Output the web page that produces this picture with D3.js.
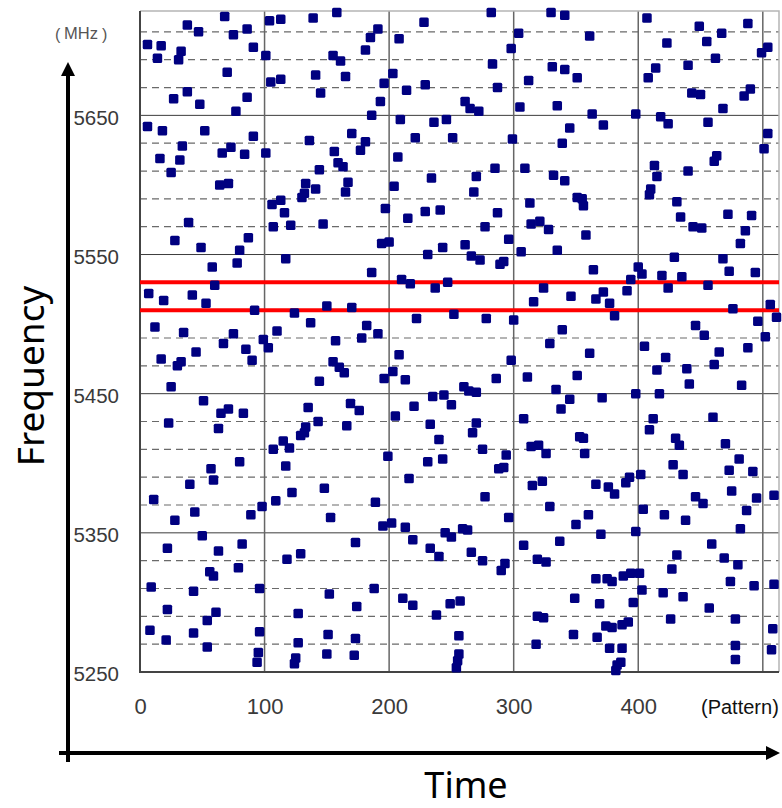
<!DOCTYPE html>
<html>
<head>
<meta charset="utf-8">
<script src="https://d3js.org/d3.v7.min.js"></script>
<style>
  body { margin: 0; background: #fff; }
  svg { display: block; }
</style>
</head>
<body>
<div id="chartArea"></div>
<script>
// pattern number, frequency (MHz)
var hops = [
  [68,5721],[38,5715],[47,5710],[75,5708],[86,5712],[6,5701],[17,5700],[33,5696],[14,5691],[31,5690],
  [91,5699],[101,5693],[104,5718],[113,5719],[139,5720],[158,5724],[155,5693],[161,5689],[165,5678],[141,5679],
  [145,5666],[105,5674],[113,5676],[70,5681],[38,5667],[27,5662],[48,5658],[86,5663],[77,5653],[6,5642],
  [18,5639],[52,5639],[91,5635],[34,5628],[73,5627],[66,5623],[84,5622],[101,5623],[16,5619],[32,5618],
  [25,5609],[64,5600],[71,5601],[39,5573],[136,5632],[170,5637],[156,5624],[159,5616],[163,5613],[144,5611],
  [167,5602],[165,5595],[133,5601],[141,5597],[130,5591],[132,5594],[106,5586],[113,5589],[116,5580],[107,5570],
  [121,5571],[147,5572],
  [191,5712],[185,5706],[181,5697],[208,5705],[228,5717],[282,5724],[330,5724],[341,5722],[304,5709],[298,5698],
  [283,5687],[331,5685],[341,5683],[203,5680],[196,5673],[214,5668],[229,5672],[287,5670],[312,5675],[193,5660],
  [261,5660],[265,5655],[272,5653],[305,5656],[335,5657],[186,5650],[209,5647],[236,5645],[246,5647],[181,5631],
  [177,5625],[221,5634],[251,5634],[299,5633],[339,5630],[207,5620],[285,5612],[309,5612],[332,5607],[341,5603],
  [234,5605],[270,5606],[204,5599],[268,5595],[313,5587],[197,5583],[215,5576],[229,5581],[241,5582],[287,5580],
  [277,5570],[314,5572],[321,5574],[328,5568],
  [361,5707],[407,5720],[449,5714],[467,5709],[488,5716],[423,5702],[455,5703],[462,5691],[499,5695],[504,5699],
  [351,5677],[414,5684],[408,5677],[440,5686],[443,5666],[450,5665],[485,5664],[490,5669],[468,5655],[363,5651],
  [372,5643],[398,5651],[418,5649],[424,5644],[456,5645],[345,5641],[504,5637],[501,5626],[463,5621],[461,5617],
  [413,5614],[415,5606],[440,5610],[410,5597],[409,5593],[351,5591],[355,5590],[356,5585],[431,5588],[434,5577],
  [472,5579],[491,5578],[444,5570],[451,5569],[486,5567],
  [28,5560],[49,5555],[87,5562],[80,5553],[78,5544],[58,5541],[117,5547],[60,5528],[7,5522],[19,5517],
  [42,5521],[53,5515],[92,5510],[124,5508],[150,5513],[170,5512],[137,5501],[12,5498],[35,5494],[75,5493],
  [110,5495],[67,5486],[99,5489],[103,5483],[157,5488],[45,5480],[85,5482],[90,5474],[17,5475],[30,5470],
  [33,5473],[155,5473],[160,5469],[164,5465],[144,5459],[25,5455],[51,5445],[65,5436],[71,5439],[83,5436],
  [23,5429],[63,5425],[135,5440],[143,5430],[166,5427],[169,5443],[133,5426],[129,5420],[132,5422],[115,5416],
  [120,5411],[107,5410],
  [194,5558],[200,5559],[243,5555],[231,5550],[261,5557],[266,5549],[273,5546],[296,5561],[289,5543],[292,5545],
  [306,5552],[335,5553],[186,5537],[210,5532],[217,5529],[237,5526],[247,5530],[324,5526],[316,5516],[222,5504],
  [252,5507],[278,5504],[300,5503],[182,5499],[178,5490],[191,5493],[339,5496],[329,5486],[208,5478],[298,5474],
  [203,5466],[196,5461],[213,5460],[286,5461],[311,5462],[260,5455],[264,5452],[270,5451],[334,5453],[338,5439],
  [235,5448],[244,5449],[250,5442],[220,5441],[176,5438],[205,5434],[233,5428],[270,5429],[267,5422],[240,5417],
  [308,5432],[275,5410],[314,5412],[320,5413],
  [482,5558],[358,5564],[429,5548],[468,5547],[473,5538],[494,5537],[364,5539],[400,5541],[403,5536],[394,5532],
  [391,5524],[419,5535],[435,5534],[424,5526],[456,5528],[346,5520],[366,5518],[372,5523],[377,5515],[381,5506],
  [476,5511],[506,5514],[511,5505],[496,5502],[502,5491],[446,5499],[453,5492],[405,5484],[465,5480],[488,5483],
  [361,5479],[422,5476],[461,5471],[415,5467],[439,5468],[351,5463],[441,5457],[483,5456],[345,5446],[371,5447],
  [398,5450],[417,5450],[412,5432],[409,5424],[460,5433],[353,5419],[356,5418],[430,5418],[470,5414],[433,5413],
  [117,5398],[80,5401],[57,5396],[59,5388],[40,5385],[11,5374],[28,5359],[44,5365],[89,5363],[98,5369],
  [109,5373],[122,5379],[148,5382],[153,5361],[50,5348],[22,5339],[63,5337],[82,5342],[118,5331],[129,5335],
  [173,5343],[56,5322],[59,5319],[79,5325],[9,5311],[43,5308],[96,5310],[152,5306],[22,5295],[61,5293],
  [54,5287],[127,5292],[174,5297],[8,5280],[21,5273],[43,5278],[54,5268],[96,5279],[127,5271],[151,5277],
  [95,5264],[94,5257],[125,5260],[124,5256],[150,5263],[172,5262],
  [199,5405],[231,5401],[243,5403],[294,5406],[288,5396],[292,5397],[326,5407],[216,5389],[189,5372],[277,5376],
  [323,5387],[315,5384],[329,5369],[296,5361],[195,5355],[202,5357],[213,5354],[245,5350],[250,5347],[259,5353],
  [263,5352],[219,5345],[233,5339],[240,5333],[266,5336],[275,5330],[293,5328],[290,5323],[308,5341],[337,5344],
  [319,5331],[326,5329],[188,5310],[211,5303],[219,5298],[238,5291],[249,5299],[257,5301],[319,5290],[324,5289],
  [256,5276],[318,5270],[173,5274],[256,5263],[255,5258],[254,5253],
  [357,5407],[481,5403],[428,5399],[436,5392],[473,5395],[492,5394],[402,5392],[393,5390],[390,5386],[366,5385],
  [376,5383],[381,5378],[475,5380],[446,5376],[452,5371],[495,5375],[509,5377],[360,5363],[350,5356],[404,5367],
  [421,5363],[438,5359],[487,5366],[482,5353],[370,5349],[398,5351],[459,5342],[431,5334],[469,5332],[480,5327],
  [427,5324],[366,5317],[375,5317],[379,5315],[388,5319],[394,5321],[401,5321],[474,5315],[493,5312],[509,5313],
  [403,5309],[420,5307],[436,5304],[349,5303],[369,5299],[396,5300],[457,5296],[374,5283],[379,5282],[387,5284],
  [392,5286],[426,5288],[478,5288],[508,5281],[348,5277],[367,5275],[377,5267],[387,5267],[478,5269],[507,5266],
  [478,5259],[386,5257],[383,5255],[382,5251]
];

var xTicks = [0, 100, 200, 300, 400];
var xGrid = [100, 200, 300, 400, 500];
var yTicks = [5250, 5350, 5450, 5550, 5650];
var yMinor = d3.range(5270, 5725, 20);
var bandEdges = [5510, 5530];

var W = 782, H = 808;
var plot = { left: 140, right: 779, top: 11, bottom: 672 };

var x = d3.scaleLinear().domain([0, 513]).range([plot.left, plot.right]);
var y = d3.scaleLinear().domain([5250, 5725]).range([plot.bottom, plot.top]);

var svg = d3.select('#chartArea')
  .append('svg')
  .attr('width', W)
  .attr('height', H);

// dashed 20 MHz grid
svg.append('g').selectAll('line')
  .data(yMinor.filter(function(d) { return (d - 5250) % 100 !== 0; }))
  .enter().append('line')
  .attr('x1', plot.left).attr('x2', plot.right)
  .attr('y1', function(d) { return y(d); })
  .attr('y2', function(d) { return y(d); })
  .attr('stroke', '#6a6a6a')
  .attr('stroke-width', 1.2)
  .attr('stroke-dasharray', '7,5');

// solid 100 MHz grid
svg.append('g').selectAll('line')
  .data(yTicks.slice(1))
  .enter().append('line')
  .attr('x1', plot.left).attr('x2', plot.right)
  .attr('y1', function(d) { return y(d); })
  .attr('y2', function(d) { return y(d); })
  .attr('stroke', '#3c3c3c')
  .attr('stroke-width', 1);

// vertical grid
svg.append('g').selectAll('line')
  .data(xGrid)
  .enter().append('line')
  .attr('x1', function(d) { return x(d); })
  .attr('x2', function(d) { return x(d); })
  .attr('y1', plot.top).attr('y2', plot.bottom)
  .attr('stroke', '#666')
  .attr('stroke-width', 1.5);

// plot frame
svg.append('path')
  .attr('d', 'M' + plot.left + ',' + plot.top + 'H' + plot.right + 'V' + plot.bottom)
  .attr('fill', 'none')
  .attr('stroke', '#b5b5b5')
  .attr('stroke-width', 1.5);
svg.append('path')
  .attr('d', 'M' + plot.left + ',' + plot.top + 'V' + plot.bottom + 'H' + plot.right)
  .attr('fill', 'none')
  .attr('stroke', '#444')
  .attr('stroke-width', 2);

// band edges
svg.append('g').selectAll('line')
  .data(bandEdges)
  .enter().append('line')
  .attr('x1', plot.left).attr('x2', plot.right)
  .attr('y1', function(d) { return y(d); })
  .attr('y2', function(d) { return y(d); })
  .attr('stroke', '#ff0000')
  .attr('stroke-width', 4);

// hops
var sz = 9.5;
svg.append('g').selectAll('rect')
  .data(hops)
  .enter().append('rect')
  .attr('x', function(d) { return x(d[0]) - sz / 2; })
  .attr('y', function(d) { return y(d[1]) - sz / 2; })
  .attr('width', sz)
  .attr('height', sz)
  .attr('rx', 1.5)
  .attr('fill', '#000080');

// tick labels
var yAxis = svg.append('g')
  .attr('transform', 'translate(' + plot.left + ',0)')
  .call(d3.axisLeft(y).tickValues(yTicks).tickSize(0).tickPadding(21).tickFormat(d3.format('d')));
yAxis.select('.domain').remove();
yAxis.selectAll('text')
  .attr('dy', '0.43em')
  .style('font-family', 'Liberation Sans, Arial, sans-serif')
  .style('font-size', '20.5px')
  .style('fill', '#3a3a3a');

var xAxis = svg.append('g')
  .attr('transform', 'translate(0,' + plot.bottom + ')')
  .call(d3.axisBottom(x).tickValues(xTicks).tickSize(0).tickPadding(26).tickFormat(d3.format('d')));
xAxis.select('.domain').remove();
xAxis.selectAll('text')
  .style('font-family', 'Liberation Sans, Arial, sans-serif')
  .style('font-size', '22px')
  .style('fill', '#3a3a3a');

svg.append('text')
  .attr('x', 701).attr('y', 714)
  .style('font-family', 'Liberation Sans, Arial, sans-serif')
  .style('font-size', '20px')
  .style('fill', '#111')
  .text('(Pattern)');

// unit label with wide brackets
var unitStyle = function(t, size) {
  t.style('font-family', 'Liberation Sans, Arial, sans-serif')
    .style('font-size', size)
    .style('fill', '#555');
};
svg.append('text').attr('x', 55).attr('y', 40).text('(').call(unitStyle, '16px');
svg.append('text').attr('x', 81).attr('y', 39).attr('text-anchor', 'middle')
  .text('MHz').call(unitStyle, '16.5px');
svg.append('text').attr('x', 102).attr('y', 40).text(')').call(unitStyle, '16px');

// outer arrows
svg.append('line')
  .attr('x1', 68).attr('x2', 68).attr('y1', 762).attr('y2', 72)
  .attr('stroke', '#000').attr('stroke-width', 4);
svg.append('path')
  .attr('d', 'M68,62 L75,76 L61,76 Z')
  .attr('fill', '#000');
svg.append('line')
  .attr('x1', 59).attr('x2', 770).attr('y1', 753).attr('y2', 753)
  .attr('stroke', '#000').attr('stroke-width', 4);
svg.append('path')
  .attr('d', 'M780,753 L766,746 L766,760 Z')
  .attr('fill', '#000');

svg.append('text')
  .attr('transform', 'translate(44,376) rotate(-90)')
  .attr('text-anchor', 'middle')
  .style('font-family', 'Noto Sans, sans-serif')
  .style('font-size', '37px')
  .style('fill', '#000')
  .text('Frequency');

svg.append('text')
  .attr('x', 466).attr('y', 798)
  .attr('text-anchor', 'middle')
  .style('font-family', 'Noto Sans, sans-serif')
  .style('font-size', '36px')
  .style('fill', '#000')
  .text('Time');
</script>
</body>
</html>
